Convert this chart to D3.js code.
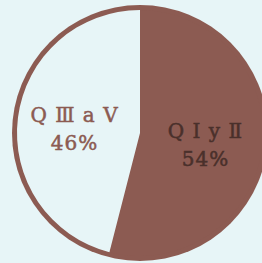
<!DOCTYPE html>
<html>
<head>
<meta charset="utf-8">
<script src="https://cdn.jsdelivr.net/npm/d3@7"></script>
<style>
  html, body { margin: 0; padding: 0; background: #e7f5f7; }
  svg { display: block; }
  text { font-family: "DejaVu Serif", serif; }
</style>
</head>
<body>
<div id="chart"></div>
<script>
// slices: clockwise from 12 o'clock
var labels = ["Q I y \u2161", "Q \u2162 a V"];
var values = [54, 46];
var pctLabels = ["54%", "46%"];

var width = 262, height = 263;
var cx = 140, cy = 133, r = 128, ring = 5;
var brown = "#8c5b52";

var svg = d3.select("#chart").append("svg")
    .attr("width", width)
    .attr("height", height);

var g = svg.append("g").attr("transform", "translate(" + cx + "," + cy + ")");

var pie = d3.pie().sort(null).value(function(d) { return d; });
var arcs = pie(values);

// outer ring + brown base
g.append("circle").attr("r", r).attr("fill", brown);

var inner = d3.arc().innerRadius(0).outerRadius(r - ring);
var labelArc = d3.arc().innerRadius(66).outerRadius(66);

g.selectAll("path.slice")
    .data(arcs)
    .enter().append("path")
    .attr("class", "slice")
    .attr("d", inner)
    .attr("fill", function(d, i) { return i == 0 ? brown : "#e7f5f7"; });

var lbl = g.selectAll("g.lbl")
    .data(arcs)
    .enter().append("g")
    .attr("class", "lbl")
    .attr("transform", function(d) {
        var c = labelArc.centroid(d);
        return "translate(" + c[0] + "," + c[1] + ")";
    });

function txtColor(d, i) { return i == 0 ? "#4a302b" : brown; }

lbl.append("text")
    .attr("text-anchor", "middle")
    .attr("y", -3)
    .attr("font-size", 20)
    .attr("letter-spacing", 1)
    .attr("fill", txtColor)
    .attr("stroke", txtColor)
    .attr("stroke-width", 0.5)
    .text(function(d, i) { return labels[i]; });

lbl.append("text")
    .attr("text-anchor", "middle")
    .attr("y", 25)
    .attr("font-size", 20)
    .attr("letter-spacing", 1)
    .attr("fill", txtColor)
    .attr("stroke", txtColor)
    .attr("stroke-width", 0.5)
    .text(function(d, i) { return pctLabels[i]; });
</script>
</body>
</html>
